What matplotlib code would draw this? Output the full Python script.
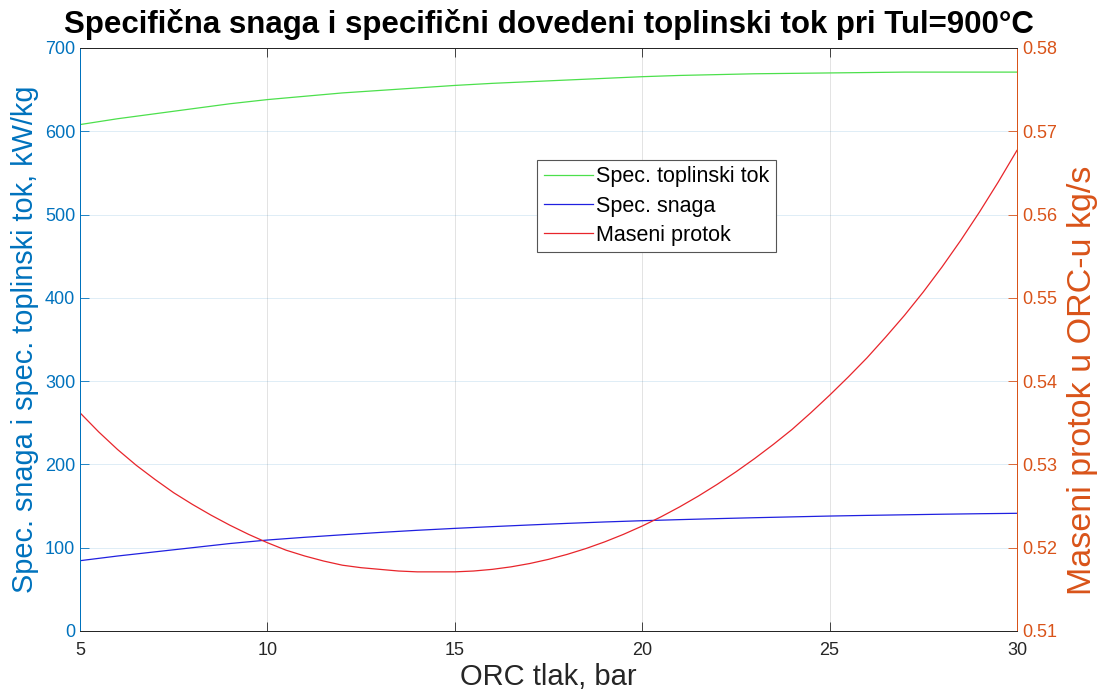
import matplotlib
matplotlib.use('Agg')
import matplotlib.pyplot as plt
import numpy as np

plt.rcParams['font.family'] = ['Liberation Sans', 'DejaVu Sans']

# ORC pressure, bar
tlak = [5, 6, 7, 8, 9, 10, 11, 12, 13, 14, 15, 16, 17, 18, 19, 20,
        21, 22, 23, 24, 25, 26, 27, 28, 29, 30]
# specific heat flow, kW/kg
toplinski_tok = [608, 615, 621, 627, 633, 638, 642, 646, 649, 652, 655,
                 657.5, 659.5, 661.5, 663.5, 665.5, 667, 668, 669, 669.5,
                 670, 670.5, 671, 671, 671, 671]
# specific power, kW/kg
snaga = [84.4, 90, 95, 100, 105, 109.2, 112.5, 115.5, 118.3, 120.9, 123.2,
         125.3, 127.3, 129.2, 130.9, 132.4, 133.7, 134.9, 136, 137, 138,
         138.8, 139.5, 140.2, 140.8, 141.3]

# mass flow in ORC, kg/s (read every 0.5 bar)
tlak_protok = [5, 5.5, 6, 6.5, 7, 7.5, 8, 8.5, 9, 9.5, 10, 10.5, 11, 11.5,
               12, 12.5, 13, 13.5, 14, 14.5, 15, 15.5, 16, 16.5, 17, 17.5,
               18, 18.5, 19, 19.5, 20, 20.5, 21, 21.5, 22, 22.5, 23, 23.5,
               24, 24.5, 25, 25.5, 26, 26.5, 27, 27.5, 28, 28.5, 29, 29.5, 30]
protok = [0.5362, 0.5339, 0.5318, 0.5299, 0.5282, 0.5266, 0.5252, 0.5239,
          0.5227, 0.5216, 0.5206, 0.5197, 0.5190, 0.5184, 0.5179, 0.5176,
          0.5174, 0.5172, 0.5171, 0.5171, 0.5171, 0.5172, 0.5174, 0.5177,
          0.5181, 0.5186, 0.5192, 0.5199, 0.5207, 0.5216, 0.5226, 0.5237,
          0.5249, 0.5262, 0.5276, 0.5291, 0.5307, 0.5324, 0.5342, 0.5362,
          0.5383, 0.5405, 0.5428, 0.5453, 0.5479, 0.5507, 0.5537, 0.5569,
          0.5603, 0.5639, 0.5677]

blue = '#0072BD'
orange = '#D95319'
dark = '#262626'

fig = plt.figure(figsize=(11, 6.95), dpi=100)
ax = fig.add_axes([0.0727, 0.0921, 0.8518, 0.8389])
ax2 = ax.twinx()

l1, = ax.plot(tlak, toplinski_tok, color='#4ce04c', lw=0.9, label='Spec. toplinski tok')
l2, = ax.plot(tlak, snaga, color='#2020e0', lw=0.9, label='Spec. snaga')
l3, = ax2.plot(tlak_protok, protok, color='#e8252b', lw=0.9, label='Maseni protok')

ax.set_xlim(5, 30)
ax.set_ylim(0, 700)
ax2.set_ylim(0.51, 0.58)
ax.set_xticks(range(5, 31, 5))
ax.set_yticks(range(0, 701, 100))
ax2.set_yticks(np.arange(0.51, 0.5801, 0.01))
ax2.set_yticklabels(['%.2f' % v for v in np.arange(0.51, 0.5801, 0.01)])

ax.grid(True, axis='x', color=dark, alpha=0.15, lw=0.6)
ax.grid(True, axis='y', color=blue, alpha=0.15, lw=0.6)

ax.tick_params(axis='x', direction='in', length=6.5, width=0.6, colors=dark,
               labelsize=13, top=True, pad=8)
ax.tick_params(axis='y', direction='in', length=6.5, width=0.6, colors=blue,
               labelsize=13)
ax2.tick_params(axis='y', direction='in', length=6.5, width=0.6, colors=orange,
                labelsize=13)

for a in (ax, ax2):
    a.spines['top'].set_color(dark)
    a.spines['bottom'].set_color(dark)
    a.spines['left'].set_color(blue)
    a.spines['right'].set_color(orange)
    for s in a.spines.values():
        s.set_linewidth(0.7)

ax.set_xlabel('ORC tlak, bar', fontsize=21, color=dark, labelpad=3)
ax.set_ylabel('Spec. snaga i spec. toplinski tok, kW/kg', fontsize=20.8,
              color=blue, labelpad=4)
ax2.set_ylabel('Maseni protok u ORC-u kg/s', fontsize=24.5, color=orange)
ax2.yaxis.set_label_coords(1.053, 0.43)
ax.set_title('Specifična snaga i specifični dovedeni toplinski tok pri Tul=900°C',
             fontsize=22.5, fontweight='bold', pad=11)

leg = ax2.legend(handles=[l1, l2, l3], loc='upper left',
                 bbox_to_anchor=(0.488, 0.808), fontsize=15.5, frameon=True,
                 fancybox=False, framealpha=1, edgecolor='#555555',
                 handlelength=2.3, handletextpad=0.15, borderpad=0.3,
                 labelspacing=0.38, borderaxespad=0)
leg.get_frame().set_linewidth(0.8)

fig.savefig('out.png', dpi=100)
